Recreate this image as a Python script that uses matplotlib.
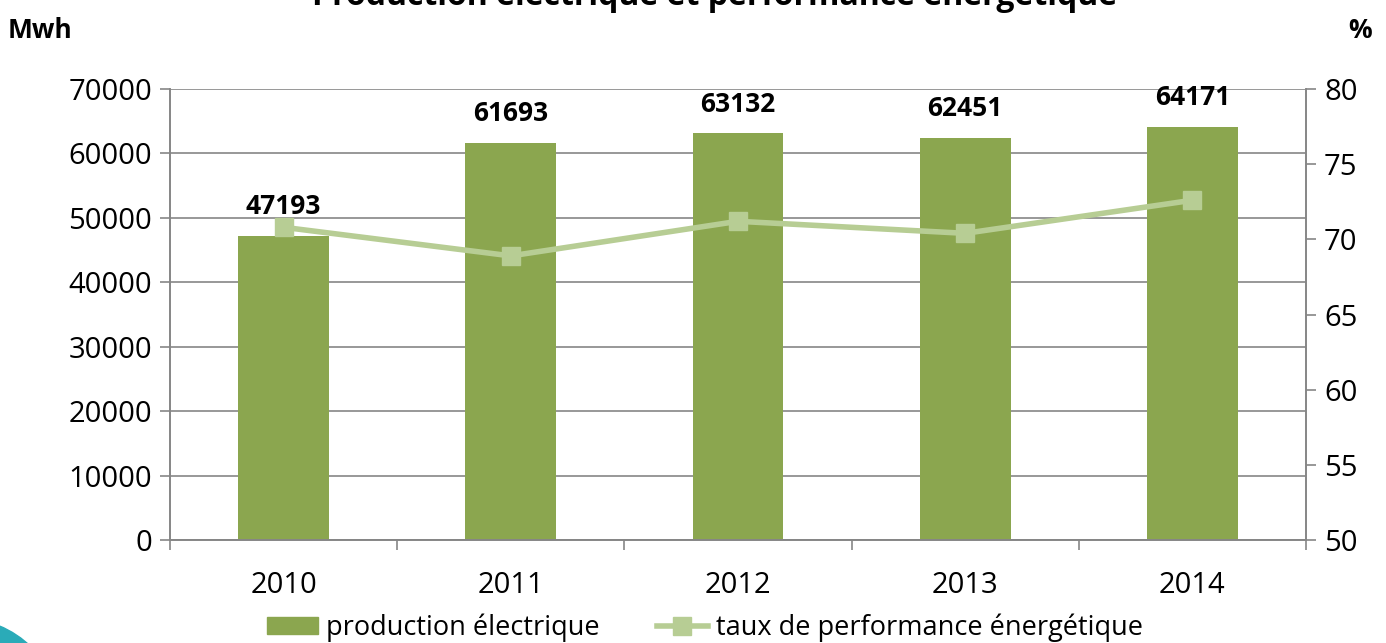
import numpy as np
import matplotlib.pyplot as plt
from matplotlib.patches import Patch, Ellipse
from matplotlib.lines import Line2D

# Data
years = ['2010', '2011', '2012', '2013', '2014']
production = [47193, 61693, 63132, 62451, 64171]
performance = [70.8, 68.9, 71.2, 70.4, 72.6]

bar_color = '#8BA64F'
line_color = '#B7CD94'
grid_color = '#868686'

plt.rcParams['font.family'] = ['Open Sans', 'DejaVu Sans']

fig = plt.figure(figsize=(13.86, 6.43), dpi=100)
ax = fig.add_axes([170 / 1386, 103 / 643, 1136 / 1386, 451 / 643])
ax2 = ax.twinx()

x = np.arange(len(years))
ax.bar(x, production, width=0.4, color=bar_color, zorder=2)
for xi, v in zip(x, production):
    ax.text(xi, v + 2400, str(v), ha='center', va='bottom',
            fontsize=19, fontweight='bold', color='black')

ax2.plot(x, performance, color=line_color, lw=4, marker='s', markersize=13)

ax.set_xlim(-0.5, len(years) - 0.5)
ax.set_ylim(0, 70000)
ax.set_yticks(range(0, 70001, 10000))
ax2.set_ylim(50, 80)
ax2.set_yticks(range(50, 81, 5))

ax.set_xticks(x)
ax.set_xticklabels(years)
ax.set_xticks(np.arange(-0.5, len(years), 1), minor=True)
ax.tick_params(axis='x', which='major', length=0, pad=22, labelsize=21)
ax.tick_params(axis='x', which='minor', length=7, color=grid_color, width=1.2)
ax.tick_params(axis='y', length=7, color=grid_color, width=1.2, labelsize=21, pad=6)
ax2.tick_params(axis='y', length=7, color=grid_color, width=1.2, labelsize=21, pad=6)

ax.yaxis.grid(True, color=grid_color, lw=1.2)
ax.set_axisbelow(True)
for a in (ax, ax2):
    a.spines['top'].set_visible(False)
    for s in ('left', 'right', 'bottom'):
        a.spines[s].set_color(grid_color)
        a.spines[s].set_linewidth(1.2)
ax2.patch.set_visible(False)

# title is cropped at the top edge in the original
fig.text(715 / 1386, 1 - 5 / 643, 'Production électrique et performance énergétique',
         ha='center', va='baseline', fontsize=23, fontweight='bold')
fig.text(8 / 1386, 1 - 31 / 643, 'Mwh', ha='left', va='center',
         fontsize=19, fontweight='bold')
fig.text(1372 / 1386, 1 - 31 / 643, '%', ha='right', va='center',
         fontsize=19, fontweight='bold')

# Legend
handles = [Patch(color=bar_color, label='production électrique'),
           Line2D([], [], color=line_color, lw=4, marker='s', markersize=13,
                  label='taux de performance énergétique')]
fig.legend(handles=handles, loc='center', bbox_to_anchor=(705 / 1386, 1 - 628 / 643),
           ncol=2, frameon=False, fontsize=19.5, handlelength=1.9, handleheight=0.6,
           handletextpad=0.3, columnspacing=2.1, borderpad=0)

# decorative teal circle in the corner
fig.patches.append(Ellipse((-40 / 1386, -77 / 643), 204 / 1386, 204 / 643,
                           transform=fig.transFigure, color='#2AABB8', zorder=0))

fig.savefig('out.png', dpi=100)
